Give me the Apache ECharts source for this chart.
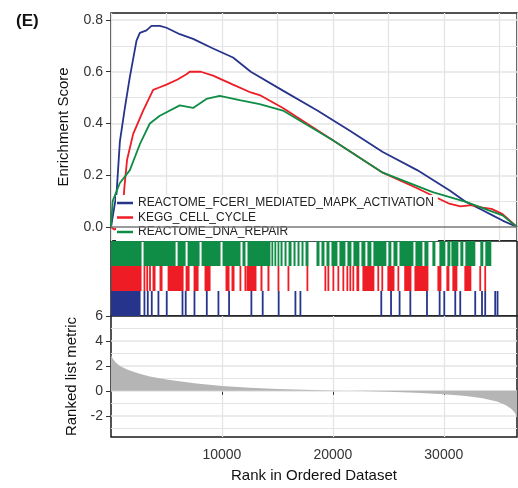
<!DOCTYPE html>
<html>
<head>
<meta charset="utf-8">
<script src="https://cdn.jsdelivr.net/npm/echarts@6/dist/echarts.min.js"></script>
<style>html,body{margin:0;padding:0;background:#fff}#c{width:518px;height:488px}</style>
</head>
<body>
<div id="c"></div>
<script>
// ---------- data ----------
const geneSets = ['REACTOME_FCERI_MEDIATED_MAPK_ACTIVATION', 'KEGG_CELL_CYCLE', 'REACTOME_DNA_REPAIR'];
const rankMax = 36600;
const esTicks = [0, 0.2, 0.4, 0.6, 0.8];
const metricTicks = [-2, 0, 2, 4, 6];
const rankTicks = [10000, 20000, 30000];
const esZero = 0;

// running enrichment score [rank, ES]
const esFceri = [[0,0],[500,0.13],[800,0.33],[1250,0.46],[1700,0.58],[2300,0.72],[2600,0.75],[3200,0.76],[3650,0.777],[4400,0.777],[5000,0.77],[6200,0.745],[7400,0.727],[9200,0.69],[11000,0.655],[12600,0.60],[15500,0.527],[18600,0.45],[21500,0.373],[24500,0.29],[27600,0.22],[30500,0.142],[32000,0.097],[33500,0.065],[34400,0.045],[35300,0.025],[36600,0]];
const esCellCycle = [[0,0],[300,-0.01],[700,0.0],[1000,0.03],[1200,0.15],[1450,0.26],[2000,0.36],[2900,0.45],[3800,0.53],[4400,0.54],[5000,0.55],[6000,0.57],[6800,0.59],[7100,0.60],[8100,0.60],[9200,0.585],[11000,0.55],[12600,0.52],[13400,0.51],[15500,0.46],[20000,0.335],[24500,0.21],[27600,0.15],[30500,0.09],[31500,0.08],[32500,0.085],[33500,0.075],[34300,0.07],[35300,0.05],[36600,0]];
const esDnaRepair = [[0,0],[150,0.1],[800,0.17],[1700,0.22],[2600,0.32],[3500,0.40],[4400,0.43],[6200,0.47],[7400,0.46],[8600,0.495],[9800,0.507],[11600,0.49],[13400,0.475],[15500,0.45],[20000,0.335],[24500,0.21],[29000,0.135],[32000,0.097],[34000,0.065],[35300,0.045],[36600,0]];

// hit positions [startRank, endRank]
const hitsFceri = [[0,2700],[2970,2970],[3270,3270],[3630,3630],[4230,4230],[4980,4980],[6400,6400],[6690,6690],[7480,7480],[8590,8590],[9640,9640],[10600,10600],[12610,12610],[13630,13630],[15070,15070],[16580,16580],[17030,17030],[24320,24320],[25200,25200],[25970,25970],[26940,26940],[28440,28440],[29580,29580],[30000,30000],[30990,30990],[31440,31440],[32790,32790],[33400,33400],[33690,33690],[34590,34590],[34800,34800]];
const hitsCellCycle = [[90,2790],[2970,2970],[3220,3220],[3470,3560],[3780,4050],[4410,4680],[5140,6580],[6760,7120],[7480,7930],[8470,9010],[10360,10720],[10900,11170],[11620,11620],[12070,12070],[12250,13150],[13510,13690],[14140,14320],[15050,15050],[15950,15950],[17660,17750],[19280,19280],[19550,19550],[20000,20000],[20450,20450],[20900,20900],[21260,21260],[21530,21530],[21800,21800],[22160,22160],[22250,22250],[22700,23780],[24050,24050],[24410,24500],[24950,25590],[25860,25860],[26470,27120],[27390,28650],[29460,29820],[30270,30540],[30810,31260],[31890,32520],[33240,33240],[33690,33690]];
const hitsDnaRepair = [[0,2790],[2970,5860],[6040,6760],[6940,8020],[8200,9910],[10090,11710],[11890,12160],[12340,14410],[14500,14590],[14770,14860],[15050,15180],[15320,15500],[15680,15860],[16040,16310],[16490,16670],[16850,17030],[17210,17390],[17570,17840],[18560,18830],[19010,19280],[19460,19730],[19910,20450],[20630,21170],[21350,21710],[21890,22430],[22610,22970],[23150,23510],[23690,24860],[25040,25310],[25500,25860],[26040,27300],[27480,28110],[28290,28650],[29010,29280],[29640,30180],[30360,30630],[30720,31350],[31530,31800],[31980,32880],[33330,33600],[33780,34320]];

// ranked list metric [rank, metric]
const rankedMetric = [[0,2.9],[150,2.6],[400,2.3],[800,2.0],[1500,1.7],[2500,1.4],[3500,1.15],[5000,0.9],[7500,0.6],[10000,0.38],[12500,0.25],[15000,0.15],[17500,0.08],[20000,0.03],[22500,-0.01],[25000,-0.07],[27500,-0.15],[30000,-0.28],[32000,-0.42],[33500,-0.6],[34800,-0.85],[35600,-1.15],[36100,-1.45],[36400,-1.75],[36600,-2.1]];

// ---------- styling ----------
const FONT = 'Liberation Sans';
const cBlue = '#26348b', cRed = '#ee1c24', cGreen = '#0f8c45';
const gridCol = '#e4e4e4';
const L = 111, W = 406;

const esGrid = [0.1,0.2,0.3,0.4,0.5,0.6,0.7,0.8].map(v => ({ yAxis: v, lineStyle: { color: gridCol, width: (Math.round(v*10)%2===0)?1.6:1, type:'solid' } }));
const mGrid = [-3,-2,-1,0,1,2,3,4,5].map(v => ({ yAxis: v, lineStyle: { color: gridCol, width: (v%2===0)?1.6:1, type:'solid' } }));

function hitSeries(data, row, color) {
  return {
    type: 'custom', xAxisIndex: 1, yAxisIndex: 1, clip: true, silent: true,
    data: data.map(d => [d[0], d[1], row]),
    encode: { x: [0, 1], y: 2 },
    renderItem: function (params, api) {
      const a = api.coord([api.value(0), api.value(2) + 1]);
      const b = api.coord([api.value(1), api.value(2)]);
      const w = Math.max(b[0] - a[0], 1.8);
      return { type: 'rect', shape: { x: a[0] - 0.4, y: a[1], width: w, height: b[1] - a[1] }, style: { fill: color } };
    }
  };
}

const xBase = (idx, showLabels) => ({
  type: 'value', gridIndex: idx, min: 0, max: rankMax, interval: 5000,
  axisLine: { show: false },
  axisTick: showLabels ? { show: true, customValues: rankTicks, length: 4, lineStyle: { color: '#333' } } : { show: false },
  axisLabel: showLabels ? { show: true, customValues: rankTicks, formatter: v => String(v), fontFamily: FONT, fontSize: 14, color: '#333', margin: 11 } : { show: false },
  splitLine: { show: idx !== 1, lineStyle: { color: gridCol, width: 1.3 } },
  name: showLabels ? 'Rank in Ordered Dataset' : '',
  nameLocation: 'middle', nameGap: 31,
  nameTextStyle: { fontFamily: FONT, fontSize: 15, color: '#111' }
});

const option = {
  animation: false,
  backgroundColor: '#fff',
  title: { text: '(E)', left: 11, top: 8, textStyle: { fontFamily: FONT, fontSize: 17, fontWeight: 'bold', color: '#111' } },
  legend: {
    data: geneSets, orient: 'vertical', left: 116, top: 195, itemGap: 2.5,
    icon: 'rect', itemWidth: 16, itemHeight: 2.5, selectedMode: false,
    backgroundColor: '#fff', padding: [2, 4, 3, 1], z: 4,
    textStyle: { fontFamily: FONT, fontSize: 12, color: '#222' }
  },
  grid: [
    { left: L, top: 13, width: W, height: 228, show: true, backgroundColor: '#fff', borderColor: '#1a1a1a', borderWidth: 1.5 },
    { left: L, top: 241, width: W, height: 75, show: true, backgroundColor: '#fff', borderColor: '#1a1a1a', borderWidth: 1.5 },
    { left: L, top: 316, width: W, height: 121, show: true, backgroundColor: '#fff', borderColor: '#1a1a1a', borderWidth: 1.5 }
  ],
  xAxis: [xBase(0, false), xBase(1, false), xBase(2, true)],
  yAxis: [
    { type: 'value', gridIndex: 0, min: -0.054, max: 0.827,
      axisLine: { show: false }, splitLine: { show: false },
      axisTick: { show: true, customValues: esTicks, length: 5, lineStyle: { color: '#333' } },
      axisLabel: { customValues: esTicks, formatter: v => v.toFixed(1), fontFamily: FONT, fontSize: 14, color: '#333', margin: 8 },
      name: 'Enrichment Score', nameLocation: 'middle', nameGap: 40,
      nameTextStyle: { fontFamily: FONT, fontSize: 15, color: '#111' } },
    { type: 'value', gridIndex: 1, min: 0, max: 3, show: false },
    { type: 'value', gridIndex: 2, min: -3.7, max: 6,
      axisLine: { show: false }, splitLine: { show: false },
      axisTick: { show: true, customValues: metricTicks, length: 5, lineStyle: { color: '#333' } },
      axisLabel: { customValues: metricTicks, formatter: v => String(v), fontFamily: FONT, fontSize: 14, color: '#333', margin: 8 },
      name: 'Ranked list metric', nameLocation: 'middle', nameGap: 32,
      nameTextStyle: { fontFamily: FONT, fontSize: 15, color: '#111' } }
  ],
  series: [
    { type: 'line', xAxisIndex: 0, yAxisIndex: 0, data: [], silent: true, z: 1,
      markLine: { silent: true, symbol: 'none', z: 1, label: { show: false }, data: esGrid, animation: false } },
    { name: geneSets[0], type: 'line', xAxisIndex: 0, yAxisIndex: 0, data: esFceri, showSymbol: false, color: cBlue, lineStyle: { width: 1.8, color: cBlue }, z: 3 },
    { name: geneSets[1], type: 'line', xAxisIndex: 0, yAxisIndex: 0, data: esCellCycle, showSymbol: false, color: cRed, lineStyle: { width: 1.8, color: cRed }, z: 3 },
    { name: geneSets[2], type: 'line', xAxisIndex: 0, yAxisIndex: 0, data: esDnaRepair, showSymbol: false, color: cGreen, lineStyle: { width: 1.8, color: cGreen }, z: 3 },
    { type: 'custom', xAxisIndex: 0, yAxisIndex: 0, silent: true, z: 10, clip: false,
      data: [[esZero]], encode: { y: 0 },
      renderItem: function (params, api) {
        const a = api.coord([0, api.value(0)]);
        const b = api.coord([rankMax, api.value(0)]);
        return { type: 'line', shape: { x1: a[0], y1: a[1], x2: b[0], y2: b[1] }, style: { stroke: '#7a7a7a', lineWidth: 1.4 } };
      } },
    hitSeries(hitsDnaRepair, 2, cGreen),
    hitSeries(hitsCellCycle, 1, cRed),
    hitSeries(hitsFceri, 0, cBlue),
    { type: 'line', xAxisIndex: 2, yAxisIndex: 2, data: [], silent: true, z: 1,
      markLine: { silent: true, symbol: 'none', z: 1, label: { show: false }, data: mGrid, animation: false } },
    { type: 'line', xAxisIndex: 2, yAxisIndex: 2, data: rankedMetric, showSymbol: false, silent: true, z: 3,
      lineStyle: { width: 0 }, areaStyle: { color: '#b5b5b5', opacity: 1 } }
  ]
};
const chart = echarts.init(document.getElementById('c'), null, { renderer: 'canvas' });
chart.setOption(option);
</script>
</body>
</html>
